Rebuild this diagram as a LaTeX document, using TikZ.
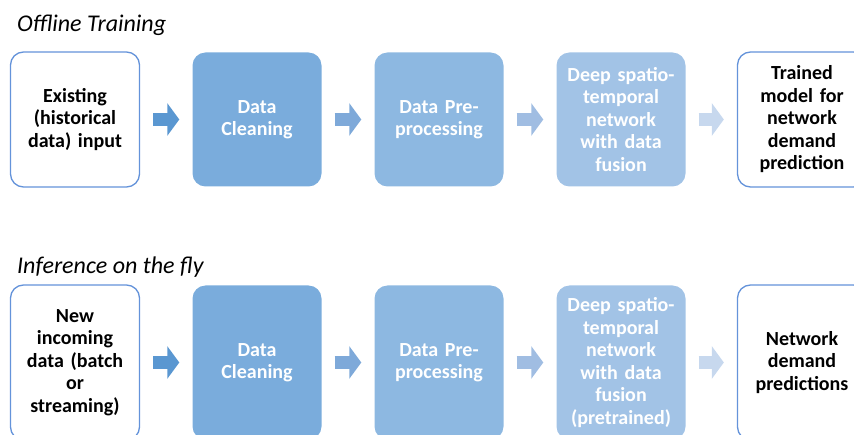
\documentclass[tikz,border=0pt]{standalone}
\usepackage{fontspec}
\setmainfont{Carlito}
\usetikzlibrary{arrows.meta}

\definecolor{ioline}{HTML}{6493DA}
\definecolor{cleanfill}{HTML}{7AACDC}
\definecolor{prepfill}{HTML}{8DB8E1}
\definecolor{netfill}{HTML}{A2C3E6}
\definecolor{flowa}{HTML}{5A97D1}
\definecolor{flowb}{HTML}{7EA9D9}
\definecolor{flowc}{HTML}{A0BDE2}
\definecolor{flowd}{HTML}{C7D8EE}

\tikzset{
  stage/.style={rounded corners=13pt, minimum width=129pt, text width=127pt,
    align=center, inner sep=0pt, font=\bfseries\fontsize{20}{22.5}\selectfont},
  iobox/.style={stage, draw=ioline, line width=1.3pt, fill=white, text=black},
  procbox/.style={stage, fill=#1, text=white},
  flow/.style={draw=#1, line width=13pt, -{Triangle[length=12pt,width=32pt]},
    shorten <=13pt, shorten >=13pt},
  rowtitle/.style={anchor=west, inner sep=0pt, font=\itshape\fontsize{24}{28}\selectfont},
}

\begin{document}
\begin{tikzpicture}[x=1pt, y=-1pt]
  \clip (0,0) rectangle (854,435);

  % offline training
  \node[rowtitle] (ttop) at (17,25) {Offline Training};
  \node[iobox, minimum height=135pt] (a1) at (75,119.5) {Existing\\(historical\\data) input};
  \node[procbox=cleanfill, minimum height=134pt] (a2) at (257,119.5) {Data\\Cleaning};
  \node[procbox=prepfill, minimum height=134pt] (a3) at (439,119.5) {Data Pre-\\processing};
  \node[procbox=netfill, minimum height=134pt] (a4) at (621,119.5) {Deep spatio-\\temporal\\network\\with data\\fusion};
  \node[iobox, minimum height=135pt] (a5) at (802,119.5) {Trained\\model for\\network\\demand\\prediction};
  \draw[flow=flowa] (a1) -- (a2);
  \draw[flow=flowb] (a2) -- (a3);
  \draw[flow=flowc] (a3) -- (a4);
  \draw[flow=flowd] (a4) -- (a5);

  % inference
  \node[rowtitle] (tbot) at (17,267) {Inference on the fly};
  \node[iobox, minimum height=155pt] (b1) at (75,362.5) {New\\incoming\\data (batch\\or\\streaming)};
  \node[procbox=cleanfill, minimum height=154pt] (b2) at (257,362.5) {Data\\Cleaning};
  \node[procbox=prepfill, minimum height=154pt] (b3) at (439,362.5) {Data Pre-\\processing};
  \node[procbox=netfill, minimum height=154pt] (b4) at (621,362.5) {Deep spatio-\\temporal\\network\\with data\\fusion\\(pretrained)};
  \node[iobox, minimum height=155pt] (b5) at (802,362.5) {Network\\demand\\predictions};
  \draw[flow=flowa] (b1) -- (b2);
  \draw[flow=flowb] (b2) -- (b3);
  \draw[flow=flowc] (b3) -- (b4);
  \draw[flow=flowd] (b4) -- (b5);
\end{tikzpicture}
\end{document}
